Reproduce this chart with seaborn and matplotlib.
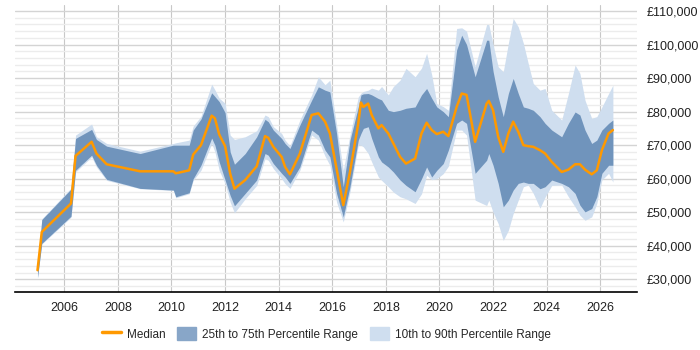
import matplotlib
matplotlib.use("Agg")
import matplotlib.pyplot as plt
import matplotlib.ticker as mticker
from matplotlib.lines import Line2D
import matplotlib.patches as mpatches
import pandas as pd
import seaborn as sns

# Time points (decimal years)
years = [2005.00, 2005.16, 2006.25, 2006.42, 2007.02, 2007.20, 2007.58, 2008.83,
         2010.07, 2010.16, 2010.66, 2010.81, 2011.10, 2011.50, 2011.62, 2011.78,
         2012.00, 2012.19, 2012.35, 2012.75, 2013.18, 2013.49, 2013.61, 2013.80,
         2014.11, 2014.24, 2014.42, 2014.79, 2015.23, 2015.48, 2015.73, 2015.91,
         2016.16, 2016.41, 2016.66, 2016.97, 2017.07, 2017.16, 2017.34, 2017.47,
         2017.72, 2017.84, 2018.09, 2018.28, 2018.53, 2018.75, 2019.09, 2019.33,
         2019.52, 2019.71, 2019.90, 2020.14, 2020.33, 2020.64, 2020.83, 2021.01,
         2021.33, 2021.76, 2021.84, 2022.00, 2022.19, 2022.38, 2022.57, 2022.75,
         2022.94, 2023.13, 2023.31, 2023.50, 2023.75, 2023.94, 2024.19, 2024.56,
         2024.81, 2025.06, 2025.24, 2025.43, 2025.68, 2025.87, 2026.06, 2026.31,
         2026.47]

p10 = [30500, 40500, 48500, 62000, 66500, 63500, 59500, 57000,
       56500, 54300, 55500, 59500, 62500, 70500, 68000, 62500,
       58500, 53000, 49800, 54000, 58000, 66000, 65500, 63000,
       60000, 58500, 57100, 62500, 73000, 71500, 66700, 64000,
       53000, 47100, 56000, 70000, 70000, 69500, 67500, 65000,
       60500, 59500, 57600, 56000, 54600, 54000, 52600, 55500,
       61000, 59700, 60000, 61500, 63700, 74500, 74500, 73000,
       53600, 52000, 53600, 50000, 46600, 41600, 44600, 49600,
       53600, 57600, 58100, 55600, 51200, 54500, 58000, 58100,
       54600, 51600, 49100, 47600, 48600, 52600, 59600, 61600,
       59000]

p25 = [30500, 40700, 48800, 62500, 67000, 64000, 59800, 57100,
       56600, 54600, 55800, 60000, 64000, 72100, 70000, 65000,
       59600, 55000, 51900, 55600, 59600, 67500, 67000, 64500,
       61600, 60500, 58600, 63500, 74500, 73000, 68500, 66500,
       55600, 48600, 57600, 71500, 73500, 75000, 75500, 72000,
       66500, 65000, 63500, 62000, 59600, 58000, 56100, 60000,
       63500, 60500, 62500, 64500, 68500, 76500, 77500, 76500,
       61600, 65500, 67500, 64000, 58600, 51600, 53600, 56600,
       58600, 59000, 58600, 58600, 57000, 57600, 59600, 58600,
       57600, 55600, 52100, 50100, 51100, 54600, 61600, 64000,
       64000]

median = [32700, 44100, 52600, 66800, 71000, 67500, 64300, 62200,
          62200, 61600, 62500, 67200, 70000, 78800, 78000, 73200,
          69700, 61500, 57000, 59600, 63700, 72700, 72200, 69500,
          66500, 63500, 61300, 67500, 79000, 79500, 77000, 73500,
          63000, 52100, 62000, 76500, 82700, 81400, 82400, 79000,
          75000, 76000, 73500, 70500, 66500, 64500, 66000, 73500,
          76700, 74500, 73300, 74000, 72700, 81400, 85400, 85000,
          71000, 82400, 83200, 80400, 72500, 68000, 73500, 77000,
          74000, 70000, 69700, 69500, 68500, 67500, 65000, 62000,
          62700, 64300, 64300, 62700, 61300, 62500, 68500, 73500,
          74500]

p75 = [33500, 47800, 56900, 72000, 74700, 71700, 69700, 67500,
       70000, 70000, 70000, 74500, 77800, 85600, 84500, 83000,
       79700, 68000, 64300, 67500, 72500, 77700, 77000, 74500,
       72000, 70500, 69000, 76000, 83400, 87400, 86400, 85900,
       73500, 57600, 71500, 81400, 85000, 85300, 85400, 85000,
       83900, 83500, 80400, 80000, 80400, 81000, 81400, 85000,
       86900, 84000, 81400, 80000, 78500, 98400, 102800, 100000,
       90400, 101300, 101300, 92000, 84400, 78500, 85400, 89900,
       85400, 81400, 81000, 80400, 78500, 76500, 74500, 72500,
       76500, 79900, 79000, 74500, 70500, 71500, 74500, 76500,
       77500]

p90 = [34000, 48000, 57200, 73000, 76300, 72500, 70500, 68200,
       70500, 70700, 71500, 75700, 78600, 88200, 86500, 84000,
       82500, 73000, 71700, 72500, 74300, 79000, 78500, 75500,
       73500, 71500, 69800, 77500, 85000, 90400, 88000, 89400,
       76000, 62500, 73000, 84400, 85500, 86000, 86400, 87000,
       86400, 87500, 85000, 87500, 89400, 92900, 90400, 93000,
       97400, 91000, 82400, 81500, 80400, 104800, 105000, 104000,
       93400, 106000, 106000, 100000, 93400, 91900, 100400, 107800,
       105300, 100400, 94400, 88400, 86400, 86900, 80400, 77500,
       85400, 93900, 91400, 83400, 78000, 78500, 81400, 85400,
       87900]

df = pd.DataFrame({"year": years, "p10": p10, "p25": p25,
                   "median": median, "p75": p75, "p90": p90})

sns.set_style("white")
plt.rcParams["font.family"] = ["Liberation Sans", "DejaVu Sans"]

light = "#cfdeef"
dark = "#7094bc"
orange = "#ff9900"

fig = plt.figure(figsize=(7, 3.5), dpi=100)
ax = fig.add_axes([0.0214, 0.1657, 0.8886, 0.82])

ax.fill_between(df["year"], df["p10"], df["p90"], color=light, lw=0, zorder=2)
ax.fill_between(df["year"], df["p25"], df["p75"], color=dark, lw=0, zorder=3)
sns.lineplot(data=df, x="year", y="median", color=orange, lw=1.8, ax=ax,
             zorder=4)

ax.set_xlim(2004.16, 2027.37)
ax.set_ylim(26200, 111800)

ax.xaxis.set_major_locator(mticker.MultipleLocator(2))
ax.xaxis.set_major_formatter(mticker.FuncFormatter(lambda v, p: f"{int(v)}"))
ax.yaxis.set_major_locator(mticker.MultipleLocator(10000))
ax.yaxis.set_minor_locator(mticker.MultipleLocator(2000))
ax.yaxis.set_major_formatter(mticker.FuncFormatter(lambda v, p: f"£{int(v):,}"))
ax.yaxis.tick_right()

ax.grid(axis="y", which="major", color="#d4d4d4", lw=1, zorder=0)
ax.grid(axis="y", which="minor", color="#ececec", lw=1, zorder=0)
ax.grid(axis="x", which="major", color="#c8c8c8", lw=0.8, zorder=0)
ax.set_axisbelow(True)

for s in ["top", "left", "right"]:
    ax.spines[s].set_visible(False)
ax.spines["bottom"].set_color("black")
ax.spines["bottom"].set_linewidth(1.2)

ax.tick_params(axis="y", which="both", length=0, labelsize=9,
               labelcolor="#222222", pad=7)
ax.tick_params(axis="x", which="major", length=4, width=1, color="black",
               labelsize=9, labelcolor="#222222", pad=3)
ax.set_xlabel("")
ax.set_ylabel("")

handles = [Line2D([0], [0], color=orange, lw=2.5),
           mpatches.Patch(color="#88a6c8"),
           mpatches.Patch(color=light)]
labels = ["Median", "25th to 75th Percentile Range", "10th to 90th Percentile Range"]
fig.legend(handles, labels, loc="center", bbox_to_anchor=(0.466, 0.046),
           ncol=3, frameon=False, fontsize=8.5, handlelength=1.6,
           handleheight=1.3, columnspacing=1.0, handletextpad=0.5)

fig.savefig("out.png", dpi=100)
